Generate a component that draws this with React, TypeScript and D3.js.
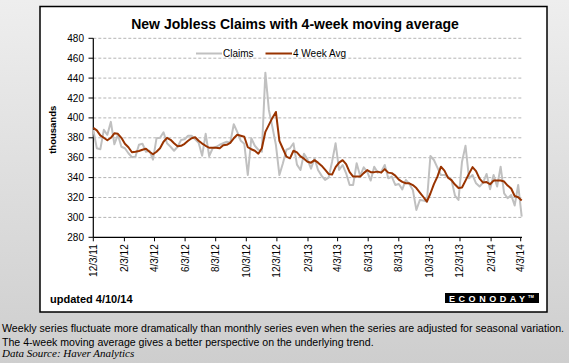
import * as d3 from 'd3'

// weekly initial jobless claims (thousands), week ending 12/3/11 .. 4/5/14
const claims = [
	388, 369.5, 368.5, 388, 383, 396, 373.5, 383, 371, 369.5,
	364.5, 360.5, 361, 373, 374, 366, 367, 358, 379.5, 380,
	385.5, 374.5, 371, 367, 371, 377.8, 378.5, 382, 382, 378.5,
	375, 362, 384, 361.7, 369.5, 371, 373, 374.5, 376, 375,
	393.6, 386, 377, 374, 342.6, 379.5, 372, 368, 366, 445.5,
	408, 391, 373, 342.6, 354.4, 368, 369.5, 374.5, 353, 347.7,
	364, 358.4, 349, 359.4, 347.7, 342, 337.6, 340, 356, 374.5,
	347.7, 352.7, 344.3, 332.6, 332.6, 354.4, 341.6, 350.4, 346, 337,
	351, 345, 346, 352.7, 339.3, 341, 332.6, 333.6, 328.2, 337.6,
	333.6, 327.6, 307.5, 317.5, 317, 316, 361.7, 357.7, 350, 342.6,
	342.6, 341, 337.6, 322, 317.5, 356, 372, 339.3, 342.6, 334.3,
	331, 335, 343.7, 328.2, 342.6, 331, 351, 324.2, 319.2, 322.5,
	312, 332.6, 300.8,
]

const avg4 = [
	390, 387.5, 382.5, 380, 377.5, 380, 384.5, 384, 380, 374,
	370.5, 365.5, 366, 366.8, 368, 369, 366, 363.5, 366, 369.5,
	376, 380, 378, 374.5, 371.5, 372, 374, 377, 379.5, 380.5,
	377, 374.2, 372, 370, 370, 370, 369.5, 372.5, 373, 375,
	379.5, 383, 382, 381, 370.5, 368.5, 367, 364, 369.5, 386,
	393, 400, 406, 377, 369, 361, 359.4, 367, 365.3, 361.3,
	359, 356, 355, 357.5, 355, 352, 348, 343.7, 343, 350.5,
	355, 357.5, 353.5, 345.5, 341, 341, 341, 344.5, 347.5, 345.5,
	345.5, 346, 345, 348.5, 345, 344.5, 342, 338, 335.7, 334.3,
	334.3, 332.5, 329.5, 325, 320.5, 315.8, 324, 333.5, 341, 351,
	347, 340, 337.5, 333, 329.5, 330, 337, 344, 350.5, 346.5,
	339, 335, 335.5, 333.3, 337, 337, 337, 336, 332, 329,
	321.5, 320.2, 316.9,
]

const xTickLabels = [
	'12/3/11', '2/3/12', '4/3/12', '6/3/12', '8/3/12', '10/3/12', '12/3/12',
	'2/3/13', '4/3/13', '6/3/13', '8/3/13', '10/3/13', '12/3/13', '2/3/14', '4/3/14',
]
const yTicks = [280, 300, 320, 340, 360, 380, 400, 420, 440, 460, 480]

const firstWeek = '12/3/11'
const lastWeek = '4/5/14'

const W = 569
const H = 363
const FONT = 'Arial, "Liberation Sans", Helvetica, sans-serif'

const parse = d3.timeParse('%m/%d/%y')

const App = () => {
	const start = parse(firstWeek)
	const end = parse(lastWeek)
	const weeks = claims.map((_, i) => d3.timeDay.offset(start, i * 7))

	const x = d3.scaleTime().domain([start, end]).range([93.3, 521.7])
	const y = d3.scaleLinear().domain([280, 480]).range([237.3, 38.3])

	const line = d3
		.line<number>()
		.x((_, i) => x(weeks[i]))
		.y((d) => y(d))

	const ticks = xTickLabels.map((s) => ({ label: s, date: parse(s) }))

	return (
		<svg
			width={W}
			height={H}
			style={{ position: 'absolute', left: 0, top: 0, fontFamily: FONT }}
		>
			<defs>
				<linearGradient id="bg" x1="0" y1="0" x2="0" y2="1">
					<stop offset="0" stopColor="#eeeeee" />
					<stop offset="1" stopColor="#cecece" />
				</linearGradient>
			</defs>
			<rect x={0} y={0} width={W} height={H} fill="url(#bg)" />

			{/* chart frame */}
			<rect x={40} y={6.5} width={507} height={305.5} fill="#fff" stroke="#000" strokeWidth={1.5} />

			<text x={295} y={29} textAnchor="middle" fontSize={14} fontWeight="bold" fill="#000">
				New Jobless Claims with 4-week moving average
			</text>

			{/* grid */}
			{yTicks.slice(1).map((t) => (
				<line
					key={t}
					x1={x.range()[0]}
					x2={523}
					y1={y(t)}
					y2={y(t)}
					stroke="#b4b4b4"
					strokeDasharray="3,2"
					strokeWidth={1}
				/>
			))}

			{/* y axis */}
			<line x1={93.3} x2={93.3} y1={y(480)} y2={y(280)} stroke="#000" strokeWidth={1.2} />
			{yTicks.map((t) => (
				<g key={t}>
					<line x1={88.5} x2={93.3} y1={y(t)} y2={y(t)} stroke="#000" />
					<text x={84} y={y(t)} dy="0.35em" textAnchor="end" fontSize={10} fill="#000">
						{t}
					</text>
				</g>
			))}
			<text
				transform={`translate(56,${(y(480) + y(280)) / 2 - 8}) rotate(-90)`}
				textAnchor="middle"
				fontSize={9.5}
				fontWeight="bold"
			>
				thousands
			</text>

			{/* x axis */}
			<line x1={93.3} x2={522} y1={y(280)} y2={y(280)} stroke="#000" strokeWidth={1.2} />
			{ticks.map((t) => (
				<g key={t.label} transform={`translate(${x(t.date)},0)`}>
					<line y1={y(280)} y2={y(280) + 4} stroke="#000" />
					<text
						transform={`translate(0,${y(280) + 7}) rotate(-90)`}
						textAnchor="end"
						dy="0.35em"
						fontSize={10}
					>
						{t.label}
					</text>
				</g>
			))}

			{/* series */}
			<path d={line(claims)} fill="none" stroke="#c0c0c0" strokeWidth={2} strokeLinejoin="round" />
			<path d={line(avg4)} fill="none" stroke="#993300" strokeWidth={2} strokeLinejoin="round" />

			{/* legend */}
			<line x1={196} x2={222} y1={53.5} y2={53.5} stroke="#c0c0c0" strokeWidth={2} />
			<text x={223} y={53.5} dy="0.35em" fontSize={10}>Claims</text>
			<line x1={265.5} x2={292} y1={53.5} y2={53.5} stroke="#993300" strokeWidth={2} />
			<text x={293} y={53.5} dy="0.35em" fontSize={10}>4 Week Avg</text>

			<text x={50} y={303} fontSize={11} fontWeight="bold">updated 4/10/14</text>

			{/* econoday badge */}
			<rect x={445} y={293} width={94} height={10} fill="#000" />
			<text
				x={449}
				y={301.5}
				fontSize={9}
				fontWeight="bold"
				fill="#fff"
				textLength={76}
				lengthAdjust="spacing"
			>
				ECONODAY
			</text>
			<text x={528} y={298} fontSize={4} fontWeight="bold" fill="#fff">TM</text>

			{/* notes */}
			<text x={2} y={332} fontSize={10.6} fill="#000" textLength={562} lengthAdjust="spacingAndGlyphs">
				Weekly series fluctuate more dramatically than monthly series even when the series are adjusted for seasonal variation.
			</text>
			<text x={2} y={345.5} fontSize={10.6} fill="#000">
				The 4-week moving average gives a better perspective on the underlying trend.
			</text>
			<text
				x={2}
				y={357}
				fontSize={11}
				fontStyle="italic"
				fill="#000"
				fontFamily='"Times New Roman", "Liberation Serif", serif'
			>
				Data Source: Haver Analytics
			</text>
		</svg>
	)
}

export default App
